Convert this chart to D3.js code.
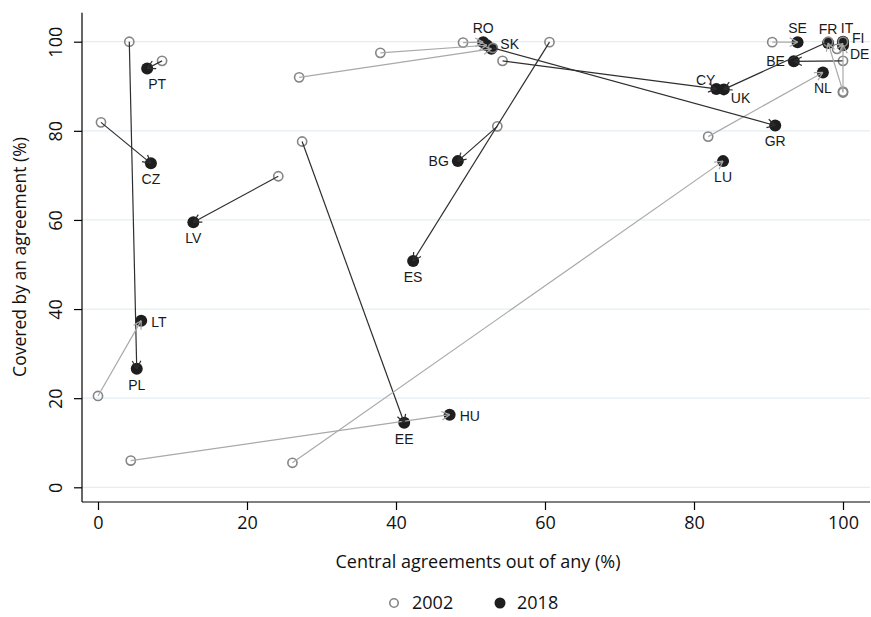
<!DOCTYPE html>
<html>
<head>
<meta charset="utf-8">
<script src="https://cdn.jsdelivr.net/npm/d3@7/dist/d3.min.js"></script>
<style>
  html, body { margin: 0; padding: 0; background: #fff; }
  svg { display: block; }
</style>
</head>
<body>
<script>
// ---- data ----
const countries = ["PL","PT","CZ","LT","HU","EE","LV","LU","SK","SI","RO","ES","CY","BG","NL","SE","BE","FR","DE","FI","IT","UK","GR"];
const labels    = ["PL","PT","CZ","LT","HU","EE","LV","LU","SK","",  "RO","ES","CY","BG","NL","SE","BE","FR","DE","FI","IT","UK","GR"];
const central2002 = [4.2, 8.6, 0.4, 0.0, 4.4, 27.4, 24.2, 26.1, 27.0, 37.9, 49.0, 60.6, 54.3, 53.6, 81.9, 90.5, 100, 100, 100, 99.2, 100, 98.0, 53.0];
const covered2002 = [100, 95.7, 81.9, 20.5, 6.0, 77.6, 69.8, 5.5, 92.0, 97.5, 99.8, 99.9, 95.7, 81.0, 78.7, 99.9, 95.7, 88.8, 88.6, 98.4, 100, 100, 98.6];
const central2018 = [5.2, 6.6, 7.1, 5.8, 47.2, 41.1, 12.8, 83.9, 52.8, 52.2, 51.7, 42.3, 83.0, 48.3, 97.3, 93.9, 93.4, 98.0, 100, 100, 100, 84.0, 90.9];
const covered2018 = [26.6, 94.0, 72.7, 37.4, 16.3, 14.5, 59.5, 73.2, 98.4, 99.2, 99.9, 50.8, 89.4, 73.2, 93.1, 99.9, 95.6, 99.7, 99.2, 99.6, 100, 89.3, 81.2];
const xTicks = [0, 20, 40, 60, 80, 100];
const yTicks = [0, 20, 40, 60, 80, 100];
const legendLabels = ["2002", "2018"];

// label placement (clock positions), layout only
const labelClock = {PL:6, PT:5, CZ:6, LT:3, HU:3, EE:6, LV:6, LU:6, SK:2, RO:12, ES:6, CY:11, BG:9,
  NL:6, SE:12, BE:9, FR:12, DE:4, FI:2, IT:1, UK:4, GR:6};
const clockLayout = {
  6: ["middle", 0, 16], 12: ["middle", 0, -14], 1: ["middle", 4, -14], 3: ["start", 10, 1], 9: ["end", -9, 0],
  11: ["end", -1, -9], 2: ["start", 9, -5], 4: ["start", 7, 9], 5: ["start", 1, 16]
};

const W = 871, H = 617;
const svg = d3.select("body").append("svg").attr("width", W).attr("height", H);

const x = d3.scaleLinear().domain([0, 100]).range([98, 843]);
const y = d3.scaleLinear().domain([0, 100]).range([487.3, 41.7]);
const axisLeftX = 82, axisBottomY = 502, plotRight = 870, plotTop = 12.7;

const tickFont = "'Open Sans', sans-serif";
const labFont = "'Liberation Sans', Arial, sans-serif";

// grid
svg.append("g").selectAll("line").data(yTicks).join("line")
  .attr("x1", axisLeftX).attr("x2", plotRight)
  .attr("y1", d => y(d)).attr("y2", d => y(d))
  .attr("stroke", "#e4edf0").attr("stroke-width", 1.3);

// axes
const xAxis = d3.axisBottom(x).tickValues(xTicks).tickSize(8).tickPadding(6).tickSizeOuter(0);
const gx = svg.append("g").attr("transform", `translate(0,${axisBottomY})`).call(xAxis);
gx.select(".domain").remove();
gx.append("line").attr("x1", axisLeftX).attr("x2", plotRight).attr("y1", 0).attr("y2", 0)
  .attr("stroke", "#000").attr("stroke-width", 1.2);
gx.selectAll(".tick line").attr("stroke", "#000").attr("stroke-width", 1.2);
gx.selectAll(".tick text").attr("font-family", tickFont).attr("font-size", 18).attr("fill", "#111");

const yAxis = d3.axisLeft(y).tickValues(yTicks).tickSize(8).tickSizeOuter(0);
const gy = svg.append("g").attr("transform", `translate(${axisLeftX},0)`).call(yAxis);
gy.select(".domain").remove();
gy.append("line").attr("x1", 0).attr("x2", 0).attr("y1", plotTop).attr("y2", axisBottomY)
  .attr("stroke", "#000").attr("stroke-width", 1.2);
gy.selectAll(".tick line").attr("stroke", "#000").attr("stroke-width", 1.2);
gy.selectAll(".tick text")
  .attr("font-family", tickFont).attr("font-size", 18).attr("fill", "#111")
  .attr("x", null).attr("dy", null)
  .attr("text-anchor", "middle")
  .attr("transform", "translate(-20,0) rotate(-90)");

// axis titles
svg.append("text").attr("x", 478).attr("y", 568)
  .attr("text-anchor", "middle").attr("font-family", tickFont).attr("font-size", 18).attr("fill", "#111")
  .text("Central agreements out of any (%)");
svg.append("text").attr("transform", `translate(26,257) rotate(-90)`)
  .attr("text-anchor", "middle").attr("font-family", tickFont).attr("font-size", 17.5).attr("fill", "#111")
  .text("Covered by an agreement (%)");

// records
const rows = countries.map((c, i) => ({
  c, label: labels[i], x0: central2002[i], y0: covered2002[i], x1: central2018[i], y1: covered2018[i]
}));

// 2018 dots
svg.append("g").selectAll("circle").data(rows).join("circle")
  .attr("cx", d => x(d.x1)).attr("cy", d => y(d.y1)).attr("r", 6)
  .attr("fill", "#1e1e1e");

// 2002 circles
svg.append("g").selectAll("circle").data(rows).join("circle")
  .attr("cx", d => x(d.x0)).attr("cy", d => y(d.y0)).attr("r", 4.6)
  .attr("fill", "none").attr("stroke", "#858585").attr("stroke-width", 1.6);

// arrows
const ag = svg.append("g");
rows.forEach(d => {
  const sx = x(d.x0), sy = y(d.y0), ex = x(d.x1), ey = y(d.y1);
  const len = Math.hypot(ex - sx, ey - sy);
  const col = d.y1 < d.y0 ? "#2e2e2e" : "#a9a9a9";
  if (len < 0.5) return;
  ag.append("line").attr("x1", sx).attr("y1", sy).attr("x2", ex).attr("y2", ey)
    .attr("stroke", col).attr("stroke-width", 1.2);
  const ang = Math.atan2(ey - sy, ex - sx);
  const bl = Math.min(9, len * 0.8), spread = 0.5;
  [ang + Math.PI - spread, ang + Math.PI + spread].forEach(a => {
    ag.append("line").attr("x1", ex).attr("y1", ey)
      .attr("x2", ex + bl * Math.cos(a)).attr("y2", ey + bl * Math.sin(a))
      .attr("stroke", col).attr("stroke-width", 1.2);
  });
});

// labels
svg.append("g").selectAll("text").data(rows.filter(d => d.label)).join("text")
  .attr("x", d => x(d.x1) + clockLayout[labelClock[d.c]][1])
  .attr("y", d => y(d.y1) + clockLayout[labelClock[d.c]][2])
  .attr("dy", "0.35em")
  .attr("text-anchor", d => clockLayout[labelClock[d.c]][0])
  .attr("font-family", labFont).attr("font-size", 14).attr("fill", "#1a1a1a")
  .text(d => d.label);

// legend
const lg = svg.append("g").attr("transform", "translate(0,603)");
lg.append("circle").attr("cx", 394).attr("cy", 0).attr("r", 4.2)
  .attr("fill", "none").attr("stroke", "#858585").attr("stroke-width", 1.6);
lg.append("text").attr("x", 412).attr("y", 0).attr("dy", "0.35em")
  .attr("font-family", tickFont).attr("font-size", 18).attr("fill", "#111").text(legendLabels[0]);
lg.append("circle").attr("cx", 500).attr("cy", 0).attr("r", 5.5).attr("fill", "#1e1e1e");
lg.append("text").attr("x", 517).attr("y", 0).attr("dy", "0.35em")
  .attr("font-family", tickFont).attr("font-size", 18).attr("fill", "#111").text(legendLabels[1]);
</script>
</body>
</html>
